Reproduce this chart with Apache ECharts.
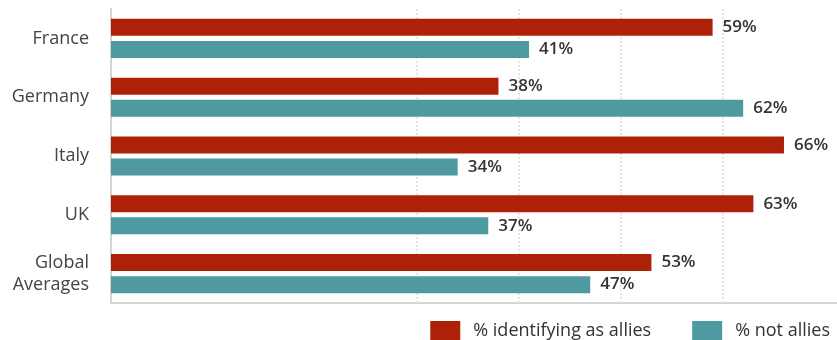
<!DOCTYPE html>
<html>
<head>
<meta charset="utf-8">
<script src="https://cdn.jsdelivr.net/npm/echarts@6/dist/echarts.min.js"></script>
<style>
  html, body { margin: 0; padding: 0; background: #fff; }
  #chart { width: 837px; height: 340px; }
</style>
</head>
<body>
<div id="chart"></div>
<script>
// data
var countries = ['France', 'Germany', 'Italy', 'UK', 'Global\nAverages'];
var allies = [59, 38, 66, 63, 53];
var notAllies = [41, 62, 34, 37, 47];
var gridValues = [30, 40, 50, 60];

var myChart = echarts.init(document.getElementById('chart'));

var labelStyle = {
  show: true,
  position: 'right',
  distance: 10,
  formatter: '{c}%',
  color: '#333',
  fontFamily: 'Open Sans',
  fontWeight: 600,
  fontSize: 17
};

var option = {
  animation: false,
  grid: { left: 111, right: 0, top: 9, bottom: 37 },
  legend: {
    right: 2,
    top: 316,
    itemWidth: 30,
    itemHeight: 20,
    itemGap: 41,
    icon: 'rect',
    textStyle: { color: '#333', fontFamily: 'Open Sans', fontSize: 18, padding: [0, 0, 0, 8] },
    data: ['% identifying as allies', '% not allies']
  },
  xAxis: {
    type: 'value',
    min: 0,
    max: 71.2,
    interval: 10,
    axisLabel: { show: false },
    axisTick: { show: false },
    splitLine: { show: false },
    axisLine: { show: true, lineStyle: { color: '#d4d4d4', width: 2 } }
  },
  yAxis: {
    type: 'category',
    inverse: true,
    data: countries,
    axisTick: { show: false },
    axisLine: { show: true, lineStyle: { color: '#d4d4d4', width: 2 } },
    axisLabel: {
      color: '#444',
      fontFamily: 'Open Sans',
      fontSize: 18,
      margin: 22,
      lineHeight: 22
    }
  },
  series: [
    {
      // holds the dotted grid lines, kept under the bars
      type: 'line',
      data: [],
      z: 1,
      silent: true,
      markLine: {
        z: 1,
        silent: true,
        symbol: 'none',
        label: { show: false },
        lineStyle: { color: '#e4e4e4', type: 'dotted', width: 2 },
        data: gridValues.map(function (v) { return { xAxis: v }; })
      }
    },
    {
      name: '% identifying as allies',
      type: 'bar',
      data: allies,
      barWidth: 17,
      barGap: '30%',
      itemStyle: { color: '#ad2108' },
      label: labelStyle,
      z: 3
    },
    {
      name: '% not allies',
      type: 'bar',
      data: notAllies,
      barWidth: 17,
      barGap: '30%',
      itemStyle: { color: '#4f9aa0' },
      label: labelStyle,
      z: 3
    }
  ]
};

myChart.setOption(option);
</script>
</body>
</html>
